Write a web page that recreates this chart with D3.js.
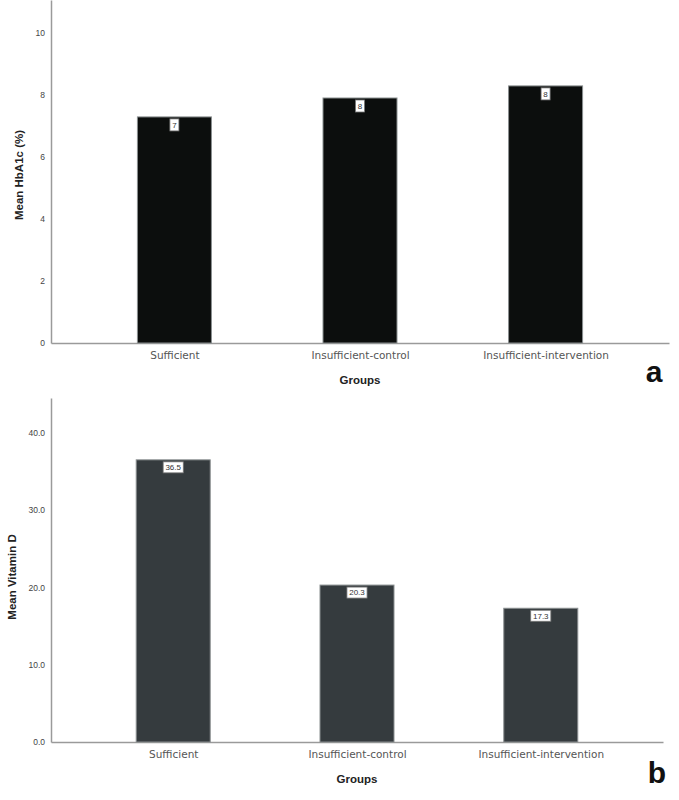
<!DOCTYPE html>
<html><head><meta charset="utf-8">
<script src="https://cdn.jsdelivr.net/npm/d3@7"></script>
<style>body{margin:0;background:#fff}svg{display:block}</style>
</head><body>
<svg id="c" width="679" height="800"></svg>
<script>
const categories = ["Sufficient", "Insufficient-control", "Insufficient-intervention"];
const hba1cValues = [7.29, 7.9, 8.29];
const hba1cLabels = ["7", "8", "8"];
const hba1cTicks = [0, 2, 4, 6, 8, 10];
const vitdValues = [36.5, 20.3, 17.3];
const vitdLabels = ["36.5", "20.3", "17.3"];
const vitdTicks = [0, 10, 20, 30, 40];

const svg = d3.select("#c");

function panel(o) {
  const g = svg.append("g");
  const x = d3.scalePoint().domain(categories).range([o.x0, o.x1]).padding(0.665);
  const y = d3.scaleLinear().domain([0, o.yMax]).range([o.yBottom, o.yTop]);
  const bw = 74;
  // axes
  const ya = g.append("g").attr("transform", `translate(${o.x0},0)`)
    .call(d3.axisLeft(y).tickValues(o.ticks).tickSize(0).tickPadding(6).tickFormat(o.fmt));
  ya.select(".domain").attr("stroke", "#9a9a9a").attr("stroke-width", 1.5);
  ya.selectAll("text").attr("font-family", "Liberation Sans, Arial, sans-serif").attr("font-size", 8.5).attr("fill", "#444");
  const xa = g.append("g").attr("transform", `translate(0,${o.yBottom})`)
    .call(d3.axisBottom(x).tickSize(0).tickPadding(9));
  xa.select(".domain").attr("stroke", "#9a9a9a").attr("stroke-width", 1.5);
  xa.selectAll("text").attr("font-family", "DejaVu Sans, sans-serif").attr("font-size", 10.5).attr("fill", "#555");
  // bars
  g.selectAll("rect.bar").data(o.values).join("rect").attr("class", "bar")
    .attr("x", (d, i) => x(categories[i]) - bw / 2)
    .attr("width", bw)
    .attr("y", d => y(d))
    .attr("height", d => y(0) - y(d))
    .attr("fill", o.color).attr("stroke", "#8a8f90").attr("stroke-width", 1);
  // value labels
  o.values.forEach((d, i) => {
    const cx = x(categories[i]);
    const t = g.append("text").text(o.labels[i])
      .attr("x", cx).attr("y", y(d) + 2 + o.boxH / 2).attr("dy", "0.35em")
      .attr("text-anchor", "middle")
      .attr("font-family", "Liberation Sans, Arial, sans-serif")
      .attr("font-size", o.labFont).attr("fill", "#333");
    const bb = t.node().getBBox();
    const w = bb.width + 4;
    g.insert("rect", () => t.node())
      .attr("x", cx - w / 2).attr("y", y(d) + 2).attr("width", w).attr("height", o.boxH)
      .attr("fill", "#fff").attr("stroke", "#777").attr("stroke-width", 0.8);
  });
  // axis titles
  g.append("text").text("Groups").attr("x", x(categories[1])).attr("y", o.yBottom + 41)
    .attr("text-anchor", "middle").attr("font-family", "Liberation Sans, Arial, sans-serif")
    .attr("font-weight", "bold").attr("font-size", 11.5).attr("fill", "#222");
  g.append("text").text(o.ylabel)
    .attr("transform", `translate(${o.ylx},${o.yly}) rotate(-90)`)
    .attr("text-anchor", "middle").attr("font-family", "Liberation Sans, Arial, sans-serif")
    .attr("font-weight", "bold").attr("font-size", 11.5).attr("fill", "#222");
  g.append("text").text(o.letter).attr("x", o.letterX).attr("y", o.letterY)
    .attr("text-anchor", "middle").attr("font-family", "Liberation Sans, Arial, sans-serif")
    .attr("font-weight", "bold").attr("font-size", 30).attr("fill", "#111");
}

panel({x0: 51, x1: 669, yTop: 0, yBottom: 343, yMax: 11.06, ticks: hba1cTicks, fmt: d3.format("d"),
  values: hba1cValues, labels: hba1cLabels, color: "#0c0e0d", boxH: 12, labFont: 8,
  ylabel: "Mean HbA1c (%)", ylx: 23, yly: 175, letter: "a", letterX: 654, letterY: 382});
panel({x0: 51, x1: 663, yTop: 398, yBottom: 742, yMax: 44.5, ticks: vitdTicks, fmt: d3.format(".1f"),
  values: vitdValues, labels: vitdLabels, color: "#353b3e", boxH: 11, labFont: 8,
  ylabel: "Mean Vitamin D", ylx: 16, yly: 577, letter: "b", letterX: 657, letterY: 783});
</script>
</body></html>
